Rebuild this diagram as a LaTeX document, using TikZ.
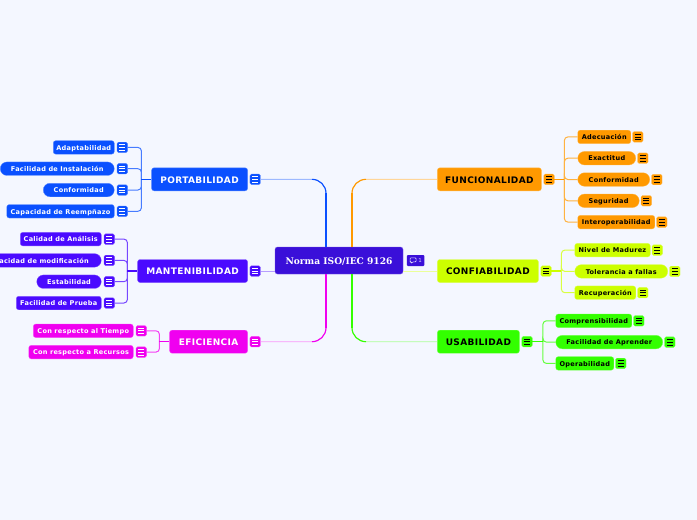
\documentclass[tikz,border=0pt]{standalone}
\usepackage{fontspec}
\setmainfont{DejaVu Sans}[LetterSpace=4]
\newfontfamily\rootfont{DejaVu Serif}
\usepackage{tikz}
\usetikzlibrary{positioning,calc}
\definecolor{pagebg}{HTML}{F4F7FF}
\definecolor{rootc}{HTML}{3A0FD9}
\definecolor{portc}{HTML}{0A50FF}
\definecolor{mantc}{HTML}{4A0AFF}
\definecolor{efic}{HTML}{F000F0}
\definecolor{func}{HTML}{FF9900}
\definecolor{conf}{HTML}{CCFF00}
\definecolor{usab}{HTML}{33FF00}

\begin{document}
\begin{tikzpicture}[
  topic/.style={rounded corners=2.5pt, inner sep=0pt, minimum height=23pt, fill=#1, draw=#1!70!white,
                line width=0.4pt, font=\fontsize{9}{10}\selectfont\bfseries, text height=7.4pt, text depth=0pt},
  leaf/.style={rounded corners=2.5pt, inner sep=0pt, minimum height=13.5pt, fill=#1, draw=#1!70!white,
               line width=0.3pt, font=\fontsize{6.55}{8}\selectfont\bfseries, text height=5.6pt, text depth=0.2pt},
  pill/.style={leaf=#1, rounded corners=6.7pt},
  note/.style 2 args={rounded corners=1.5pt, inner sep=0pt, minimum size=10.5pt, fill=#1, draw=#1!70!white, line width=0.3pt,
               path picture={\foreach \dy in {-2.8pt,0pt,2.8pt}
                 \draw[#2, line width=0.65pt] ($(path picture bounding box.center)+(-3pt,\dy)$) -- ++(6pt,0);}},
  twig/.style={line width=1pt, draw=#1!75!white, rounded corners=3.5pt},
  stem/.style={line width=1.4pt, draw=#1},
  limb/.style={line width=0.9pt, draw=#1!40!white, rounded corners=14pt},
  bow/.style={line width=1.1pt, draw=#1, rounded corners=14pt},
  trunk/.style={line width=2.3pt, draw=#1},
]
  \path[use as bounding box, fill=pagebg] (0pt,0pt) rectangle (697pt,-520pt);

  \node[fill=rootc, text=white, rounded corners=2.5pt, draw=rootc!70!white, line width=0.4pt, inner sep=0pt,
        minimum width=128pt, minimum height=27pt, text height=7.5pt, text depth=0pt,
        font=\rootfont\fontsize{9.1}{10}\selectfont\bfseries]
        (root) at (339pt,-260.5pt) {Norma ISO/IEC 9126};
  \node[right=3.5pt of root, fill=rootc, rounded corners=1pt, inner sep=0pt, minimum width=17.5pt, minimum height=11pt,
        text=white!80!rootc, font=\fontsize{5.5}{6}\selectfont, text depth=0pt, text height=4pt,
        path picture={\draw[white!85!rootc, line width=0.6pt, rounded corners=0.8pt]
          ($(path picture bounding box.center)+(-5.6pt,2.6pt)$) -- ++(6pt,0) -- ++(0,-4pt) -- ++(-3.4pt,0) -- ++(-1.4pt,-1.4pt) -- ++(0,1.4pt) -- ++(-1.2pt,0) -- cycle;}]
        (badge) {\hspace*{9pt}1};

  % left side
  \node[topic=portc, text=white, minimum width=96pt, above left=69.5pt and 27pt of root.west] (port) {PORTABILIDAD};
  \node[topic=mantc, text=white, minimum width=110pt, left=27pt of root.west, yshift=-10.5pt] (mant) {MANTENIBILIDAD};
  \node[topic=efic, text=white, minimum width=78pt, below left=69.5pt and 27pt of root.west] (efi) {EFICIENCIA};
  \node[note={portc}{white}, right=2pt of port] (portIcon) {};
  \node[note={mantc}{white}, right=2pt of mant] (mantIcon) {};
  \node[note={efic}{white}, right=2pt of efi] (efiIcon) {};

  \node[leaf=portc, text=white, minimum width=61pt, above left=25pt and 37pt of port.west] (adapt) {Adaptabilidad};
  \node[pill=portc, text=white, minimum width=114pt, below=7.5pt of adapt.south east, anchor=north east] (insta) {Facilidad de Instalación};
  \node[pill=portc, text=white, minimum width=71pt, below=7.5pt of insta.south east, anchor=north east] (confo) {Conformidad};
  \node[leaf=portc, text=white, minimum width=107.5pt, below=7.5pt of confo.south east, anchor=north east] (reemp) {Capacidad de Reempñazo};

  \node[leaf=mantc, text=white, minimum width=81pt, above left=25pt and 36pt of mant.west] (anali) {Calidad de Análisis};
  \node[pill=mantc, text=white, minimum width=129pt, below=7.5pt of anali.south east, anchor=north east] (modif) {Capacidad de modificación};
  \node[pill=mantc, text=white, minimum width=64.5pt, below=7.5pt of modif.south east, anchor=north east] (estab) {Estabilidad};
  \node[leaf=mantc, text=white, minimum width=85pt, below=7.5pt of estab.south east, anchor=north east] (prueb) {Facilidad de Prueba};

  \node[leaf=efic, text=white, minimum width=100pt, above left=4pt and 36pt of efi.west] (tiemp) {Con respecto al Tiempo};
  \node[leaf=efic, text=white, minimum width=104.5pt, below=7.5pt of tiemp.south east, anchor=north east] (recur) {Con respecto a Recursos};

  % right side
  \node[topic=func, minimum width=104pt, above right=69.5pt and 34pt of root.east] (fun) {FUNCIONALIDAD};
  \node[topic=conf, minimum width=101pt, right=34pt of root.east, yshift=-10.5pt] (con) {CONFIABILIDAD};
  \node[topic=usab, minimum width=82pt, below right=69.5pt and 34pt of root.east] (usa) {USABILIDAD};
  \node[note={func}{black}, right=2pt of fun] (funIcon) {};
  \node[note={conf}{black}, right=2pt of con] (conIcon) {};
  \node[note={usab}{black}, right=2pt of usa] (usaIcon) {};

  \node[leaf=func, minimum width=53pt, above right=35.5pt and 36pt of fun.east] (adecu) {Adecuación};
  \node[pill=func, minimum width=58pt, below=7.5pt of adecu.south west, anchor=north west] (exact) {Exactitud};
  \node[pill=func, minimum width=72pt, below=7.5pt of exact.south west, anchor=north west] (confr) {Conformidad};
  \node[pill=func, minimum width=61.5pt, below=7.5pt of confr.south west, anchor=north west] (segur) {Seguridad};
  \node[leaf=func, minimum width=77pt, below=7.5pt of segur.south west, anchor=north west] (inter) {Interoperabilidad};

  \node[leaf=conf, minimum width=75.5pt, above right=14pt and 36pt of con.east] (nivel) {Nivel de Madurez};
  \node[pill=conf, minimum width=93pt, below=7.5pt of nivel.south west, anchor=north west] (toler) {Tolerancia a fallas};
  \node[leaf=conf, minimum width=61pt, below=7.5pt of toler.south west, anchor=north west] (recup) {Recuperación};

  \node[leaf=usab, minimum width=76pt, above right=14pt and 36pt of usa.east] (compr) {Comprensibilidad};
  \node[pill=usab, minimum width=107pt, below=7.5pt of compr.south west, anchor=north west] (apren) {Facilidad de Aprender};
  \node[leaf=usab, minimum width=58pt, below=7.5pt of apren.south west, anchor=north west] (opera) {Operabilidad};

  \foreach \n in {adapt,insta,confo,reemp} \node[note={portc}{white}, right=2.5pt of \n] (\n Icon) {};
  \foreach \n in {anali,modif,estab,prueb} \node[note={mantc}{white}, right=2.5pt of \n] (\n Icon) {};
  \foreach \n in {tiemp,recur} \node[note={efic}{white}, right=2.5pt of \n] (\n Icon) {};
  \foreach \n in {adecu,exact,confr,segur,inter} \node[note={func}{black}, right=1.5pt of \n] (\n Icon) {};
  \foreach \n in {nivel,toler,recup} \node[note={conf}{black}, right=1.5pt of \n] (\n Icon) {};
  \foreach \n in {compr,apren,opera} \node[note={usab}{black}, right=1.5pt of \n] (\n Icon) {};

  % hubs
  \coordinate[left=10pt of port.west] (hubPort);
  \coordinate[left=10pt of mant.west] (hubMant);
  \coordinate[left=10pt of efi.west] (hubEfi);
  \coordinate[right=10pt of funIcon.east] (hubFun);
  \coordinate[right=10pt of conIcon.east] (hubCon);
  \coordinate[right=10.5pt of usaIcon.east] (hubUsa);

  \foreach \n in {adapt,insta,confo,reemp} \draw[twig=portc] (\n Icon.east) -| (hubPort);
  \foreach \n in {anali,modif,estab,prueb} \draw[twig=mantc] (\n Icon.east) -| (hubMant);
  \foreach \n in {tiemp,recur} \draw[twig=efic] (\n Icon.east) -| (hubEfi);
  \foreach \n in {adecu,exact,confr,segur,inter} \draw[twig=func] (hubFun) |- (\n.west);
  \foreach \n in {nivel,toler,recup} \draw[twig=conf] (hubCon) |- (\n.west);
  \foreach \n in {compr,apren,opera} \draw[twig=usab] (hubUsa) |- (\n.west);

  \draw[stem=portc] (hubPort) -- (port.west);
  \draw[stem=mantc] (hubMant) -- (mant.west);
  \draw[stem=efic] (hubEfi) -- (efi.west);
  \draw[stem=func] (funIcon.east) -- (hubFun);
  \draw[stem=conf] (conIcon.east) -- (hubCon);
  \draw[stem=usab] (usaIcon.east) -- (hubUsa);

  % root branches
  \coordinate (rootNW) at ($(root.north)+(-13pt,0)$);
  \coordinate (rootSW) at ($(root.south)+(-13pt,0)$);
  \coordinate (rootNE) at ($(root.north)+(13pt,0)$);
  \coordinate (rootSE) at ($(root.south)+(13pt,0)$);
  \coordinate (bendPort) at ($(rootNW|-port)+(-14pt,0)$);
  \coordinate (bendEfi) at ($(rootSW|-efi)+(-14pt,0)$);
  \coordinate (bendFun) at ($(rootNE|-fun)+(14pt,0)$);
  \coordinate (bendUsa) at ($(rootSE|-usa)+(14pt,0)$);
  \coordinate (kneePort) at ($(rootNW|-port)+(0,-14pt)$);
  \coordinate (kneeEfi) at ($(rootSW|-efi)+(0,14pt)$);
  \coordinate (kneeFun) at ($(rootNE|-fun)+(0,-14pt)$);
  \coordinate (kneeUsa) at ($(rootSE|-usa)+(0,14pt)$);

  \draw[limb=portc] (portIcon.east) -| (rootNW);
  \draw[limb=efic] (efiIcon.east) -| (rootSW);
  \draw[limb=func] (fun.west) -| (rootNE);
  \draw[limb=usab] (usa.west) -| (rootSE);
  \draw[limb=mantc] (mantIcon.east) -- (mantIcon.east-|root.west);
  \draw[limb=conf] (con.west) -- (con.west-|root.east);
  \draw[bow=portc] (rootNW) |- (bendPort);
  \draw[bow=efic] (rootSW) |- (bendEfi);
  \draw[bow=func] (rootNE) |- (bendFun);
  \draw[bow=usab] (rootSE) |- (bendUsa);
  \draw[trunk=portc] (rootNW) -- (kneePort);
  \draw[trunk=efic] (rootSW) -- (kneeEfi);
  \draw[trunk=func] (rootNE) -- (kneeFun);
  \draw[trunk=usab] (rootSE) -- (kneeUsa);
\end{tikzpicture}
\end{document}
